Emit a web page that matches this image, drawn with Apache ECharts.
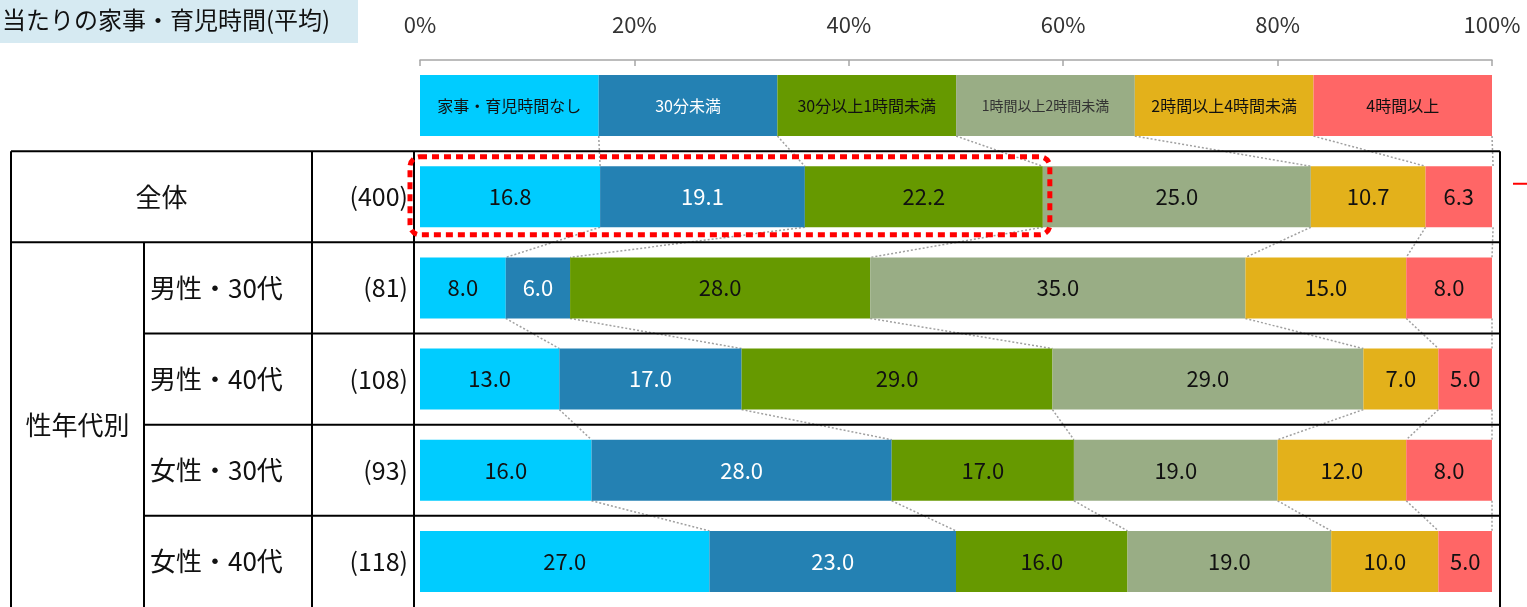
<!DOCTYPE html>
<html><head><meta charset="utf-8">
<script src="https://cdn.jsdelivr.net/npm/echarts@6/dist/echarts.min.js"></script>
<style>html,body{margin:0;padding:0;background:#fff}#c{width:1527px;height:607px}</style>
</head><body><div id="c"></div>
<script>
// ---- data ----
const seriesNames = ['家事・育児時間なし','30分未満','30分以上1時間未満','1時間以上2時間未満','2時間以上4時間未満','4時間以上'];
const rowKeys = ['凡例','全体','男性・30代','男性・40代','女性・30代','女性・40代'];
const sampleSizes = ['(400)','(81)','(108)','(93)','(118)'];
const valNone     = [16.8,  8.0, 13.0, 16.0, 27.0];
const valUnder30  = [19.1,  6.0, 17.0, 28.0, 23.0];
const val30to60   = [22.2, 28.0, 29.0, 17.0, 16.0];
const val1to2     = [25.0, 35.0, 29.0, 19.0, 19.0];
const val2to4     = [10.7, 15.0,  7.0, 12.0, 10.0];
const val4plus    = [ 6.3,  8.0,  5.0,  8.0,  5.0];
const legendKey   = [16.67, 16.67, 16.67, 16.67, 16.67, 16.65]; // equal-width key bar
const xTicks = [0, 20, 40, 60, 80, 100];
const titleText = '当たりの家事・育児時間(平均)';
const groupLabel = '性年代別';

// ---- styles ----
const FONT = '"Noto Sans CJK JP","Noto Sans",sans-serif';
const colors = ['#00ccff','#2481b3','#669900','#99ad85','#e3b11b','#ff6666'];
const BAR_W = 61;

const allVals = [valNone, valUnder30, val30to60, val1to2, val2to4, val4plus];
const rows = [legendKey.slice()].concat(valNone.map((_, i) => allVals.map(a => a[i])));
const cum = rows.map(r => { let s = 0; return r.map(v => (s += v)); });

const chart = echarts.init(document.getElementById('c'), null, {renderer: 'canvas'});

const barSeries = allVals.map((vals, k) => ({
  name: seriesNames[k], type: 'bar', stack: 's', barWidth: BAR_W, z: 3,
  itemStyle: {color: colors[k]},
  label: {
    show: true, position: 'inside', fontFamily: FONT, fontSize: 22,
    color: k === 1 ? '#ffffff' : '#111111',
    formatter: p => p.dataIndex === 0 ? seriesNames[k] : Number(p.value).toFixed(1)
  },
  data: [{value: legendKey[k], label: {fontSize: k === 3 ? 14 : 16, color: k === 1 ? '#ffffff' : (k === 3 ? '#333' : '#111')}}]
    .concat(vals)
}));

const connData = [];
for (let r = 0; r < rows.length - 1; r++) {
  for (let k = 0; k < 6; k++) connData.push([cum[r][k], r, cum[r + 1][k], r + 1]);
}

const connSeries = {
  type: 'custom', z: 1, silent: true,
  encode: {x: [0, 2], y: 1},
  data: connData,
  renderItem: (params, api) => {
    const p1 = api.coord([api.value(0), api.value(1)]);
    const p2 = api.coord([api.value(2), api.value(3)]);
    return {
      type: 'line',
      shape: {x1: p1[0], y1: p1[1] + BAR_W / 2, x2: p2[0], y2: p2[1] - BAR_W / 2},
      style: {stroke: '#a0a0a0', lineWidth: 1.5, lineDash: [2, 2]}
    };
  }
};

chart.setOption({
  animation: false,
  grid: {left: 420, right: 35, top: 60, height: 551, containLabel: false},
  xAxis: {
    type: 'value', position: 'top', min: xTicks[0], max: xTicks[xTicks.length - 1], interval: xTicks[1] - xTicks[0],
    axisLine: {show: true, lineStyle: {color: '#a6a6a6', width: 1.5}},
    axisTick: {show: true, inside: true, length: 6, lineStyle: {color: '#a6a6a6', width: 1.5}},
    axisLabel: {formatter: '{value}%', fontSize: 22, color: '#333', margin: 24, fontFamily: FONT},
    splitLine: {show: false}
  },
  yAxis: {type: 'category', data: rowKeys, inverse: true, show: false},
  series: barSeries.concat([connSeries])
});

// ---- table / annotations from axis positions ----
const yc = i => chart.convertToPixel({yAxisIndex: 0}, i);
const xp = v => chart.convertToPixel({xAxisIndex: 0}, v);
const yb = [];
for (let i = 0; i < rowKeys.length - 1; i++) yb.push((yc(i) + yc(i + 1)) / 2);
const yBottom = yc(rowKeys.length - 1) + (yc(rowKeys.length - 1) - yc(rowKeys.length - 2)) / 2;

const colLeft = 11, colSub = 144, colN = 312, colPlot = 414, tableRight = 1500;
const LS = {stroke: '#000', lineWidth: 2};
const g = [];
const line = (x1, y1, x2, y2) => g.push({type: 'line', shape: {x1, y1, x2, y2}, style: LS, z: 10});
const text = (t, x, y, align, size) => g.push({type: 'text', z: 10, style: {
  text: t, x, y, fill: '#111', font: size + 'px ' + FONT,
  align, verticalAlign: 'middle', textAlign: align, textVerticalAlign: 'middle'}});

line(colLeft, yb[0], tableRight, yb[0]);
line(colLeft, yb[1], tableRight, yb[1]);
for (let i = 2; i < yb.length; i++) line(colSub, yb[i], tableRight, yb[i]);
line(colLeft, yb[0], colLeft, yBottom);
line(colSub, yb[1], colSub, yBottom);
line(colN, yb[0], colN, yBottom);
line(colPlot, yb[0], colPlot, yBottom);
line(tableRight, yb[0], tableRight, yBottom);

text(rowKeys[1], (colLeft + colN) / 2, yc(1), 'center', 26);
for (let i = 2; i < rowKeys.length; i++) text(rowKeys[i], colSub + 6, yc(i), 'left', 26);
for (let i = 1; i < rowKeys.length; i++) text(sampleSizes[i - 1], colPlot - 6, yc(i), 'right', 25);
text(groupLabel, (colLeft + colSub) / 2, (yb[1] + yBottom) / 2, 'center', 26);

// title box
g.push({type: 'rect', z: 10, shape: {x: 0, y: 0, width: 358, height: 43}, style: {fill: '#d6eaf2'}});
text(titleText, 2, 20, 'left', 24);

// highlight box around first three segments of 全体
const hlEnd = valNone[0] + valUnder30[0] + val30to60[0];
const hx0 = xp(0) - 10, hx1 = xp(hlEnd) + 7;
g.push({type: 'rect', z: 11, shape: {x: hx0, y: yc(1) - 40, width: hx1 - hx0, height: 78, r: 10},
  style: {fill: 'none', stroke: '#ff0000', lineWidth: 5, lineDash: [7, 5]}});
// short red mark at right edge
g.push({type: 'line', z: 11, shape: {x1: 1513, y1: yc(1) - 13, x2: 1527, y2: yc(1) - 13}, style: {stroke: '#ff0000', lineWidth: 2}});

chart.setOption({graphic: g});
</script>
</body></html>
